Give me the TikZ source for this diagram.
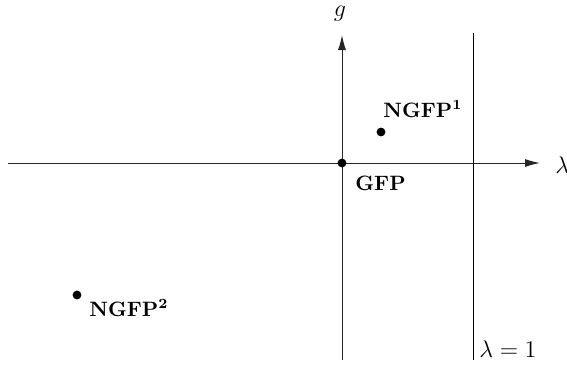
\documentclass[tikz,border=0pt]{standalone}
\usetikzlibrary{arrows.meta}
\begin{document}
\begin{tikzpicture}[x=0.5pt,y=-0.5pt,
  axis/.style={line width=0.5pt,black!85,-{Latex[length=7.5pt,width=4pt]}},
  wall/.style={line width=0.5pt},
  fp/.style={circle,fill=black,inner sep=0pt,minimum size=4.4pt},
  lbl/.style={inner sep=0pt,font=\fontsize{10.4}{12}\selectfont\bfseries},
  mlbl/.style={inner sep=0pt,font=\fontsize{13}{15}\selectfont}]
\useasboundingbox (0,0) rectangle (567,365);
\coordinate (xl) at (8,163);
\coordinate (xr) at (540,163);
\coordinate (yb) at (342,360);
\coordinate (yt) at (342,35);
\coordinate (lt) at (473,33);
\coordinate (lb) at (473,360);
\draw[axis] (xl) -- (xr);
\draw[axis] (yb) -- (yt);
\draw[wall] (lt) -- (lb);
\node[fp] (gfp) at (342,163) {};
\node[fp] (n1) at (381,132) {};
\node[fp] (n2) at (77,295) {};
\node[mlbl,anchor=base] (g) at (340,16) {$g$};
\node[mlbl,anchor=base west] (lam) at (555,173) {$\lambda$};
\node[mlbl,anchor=base west] (l1) at (479,357) {$\lambda=1$};
\node[lbl,anchor=base west] (gfpl) at (355,190) {GFP};
\node[lbl,anchor=base west] (n1l) at (383,117) {NGFP$^{\mathbf 1}$};
\node[lbl,anchor=base west] (n2l) at (89,316) {NGFP$^{\mathbf 2}$};
\end{tikzpicture}
\end{document}
